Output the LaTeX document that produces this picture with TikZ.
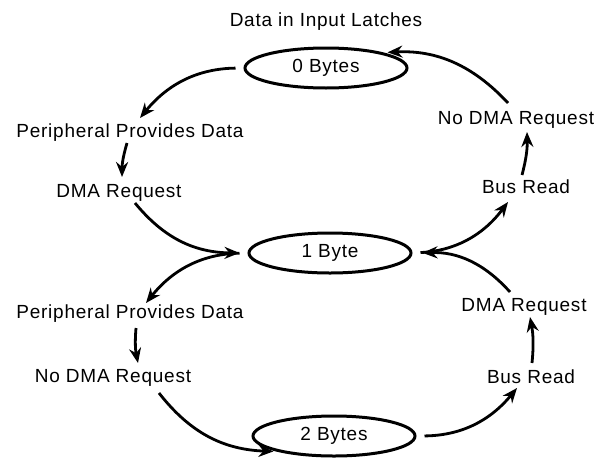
\documentclass[tikz,border=0pt]{standalone}
\usepackage{fontspec}
\setmainfont{Liberation Sans}[LetterSpace=4]
\usetikzlibrary{arrows.meta,shapes.geometric}
\begin{document}
\begin{tikzpicture}[x=1pt,y=-1pt,
  state/.style={draw,ellipse,line width=3pt,minimum width=162pt,minimum height=40pt,inner sep=0pt,font=\fontsize{19}{22}\selectfont},
  lab/.style={inner sep=0pt,anchor=base,font=\fontsize{19}{22}\selectfont},
  arr/.style={line width=2.8pt,-{Stealth[length=15pt,width=12pt,inset=5pt]},bend right=#1},
  arr/.default=25]
\useasboundingbox (0,0) rectangle (609,466);
\node[lab] (title) at (326,26) {Data in Input Latches};
\node[state] (E0) at (326,68) {0 Bytes};
\node[state] (E1) at (330,253) {1 Byte};
\node[state] (E2) at (334,436) {2 Bytes};
\node[lab] (L1) at (130,137) {Peripheral Provides Data};
\node[lab] (L2) at (119,197) {DMA Request};
\node[lab] (L3) at (130,318) {Peripheral Provides Data};
\node[lab] (L4) at (113,382) {No DMA Request};
\node[lab] (R1) at (516,124) {No DMA Request};
\node[lab] (R2) at (526,193) {Bus Read};
\node[lab] (R3) at (524,311) {DMA Request};
\node[lab] (R4) at (531,383) {Bus Read};
% upper loop
\draw[arr, shorten <=8pt] (E0.west) to ([shift={(10,-19)}]L1.base);
\draw[arr=8] ([shift={(-3,6)}]L1.base) to ([shift={(3,-20)}]L2.base);
\draw[arr] ([shift={(16,6)}]L2.base) to ([xshift=-8pt]E1.west);
\draw[arr, shorten <=8pt] (E1.east) to ([shift={(-18,9)}]R2.base);
\draw[arr=8] ([shift={(-4,-18)}]R2.base) to ([shift={(11,8)}]R1.base);
\draw[arr, shorten >=4pt] ([shift={(-8,-21)}]R1.base) to (E0.15);
% lower loop
\draw[arr, shorten <=8pt] (E1.west) to ([shift={(16,-15)}]L3.base);
\draw[arr=8] ([shift={(6,10)}]L3.base) to ([shift={(25,-19)}]L4.base);
\draw[arr] ([shift={(46,11)}]L4.base) to ([xshift=-3pt]E2.195);
\draw[arr, shorten <=8pt] (E2.east) to ([shift={(-14,5)}]R4.base);
\draw[arr=8] ([shift={(1,-20)}]R4.base) to ([shift={(6,6)}]R3.base);
\draw[arr, shorten >=4pt] ([shift={(-14,-19)}]R3.base) to ([xshift=6pt]E1.east);
\end{tikzpicture}
\end{document}
